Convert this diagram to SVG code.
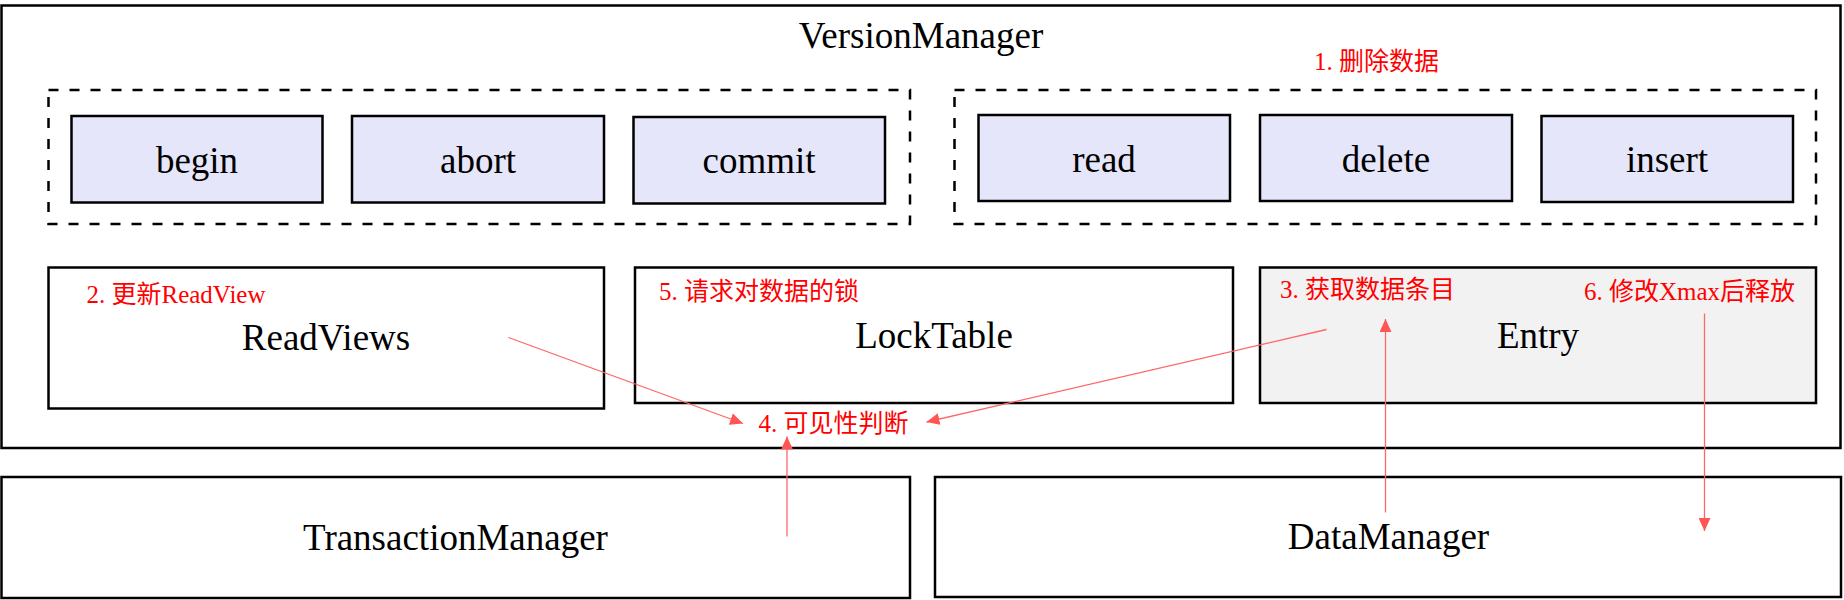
<svg xmlns="http://www.w3.org/2000/svg" width="1844" height="600" viewBox="0 0 1844 600">
<style>
.box{fill:#FFFFFF;stroke:#000000;stroke-width:2.5}
.op{fill:#E6E6FA;stroke:#000000;stroke-width:2.5}
.dash{fill:none;stroke:#000000;stroke-width:2.5;stroke-dasharray:10 11}
.t{font-family:"Liberation Serif","Times New Roman",serif;font-size:37px;fill:#000000;text-anchor:middle}
.r{font-family:"Liberation Serif","Noto Sans CJK SC",serif;font-size:25px;fill:#FF0000}
.c{stroke:#FF6666;stroke-width:1.3;fill:none}
</style>
<defs>
<marker id="ah" markerUnits="userSpaceOnUse" markerWidth="14" markerHeight="12" refX="13" refY="6" orient="auto">
<path d="M0,0 L13,6 L0,12 z" fill="#FF5555"/>
</marker>
</defs>
<rect width="1844" height="600" fill="#FFFFFF"/>
<g id="VersionManager">
<rect class="box" x="1.5" y="5.5" width="1839" height="442.5"/>
<text class="t" x="921" y="48">VersionManager</text>
</g>
<g id="group-txn-ops">
<rect class="dash" x="48.5" y="90" width="861.5" height="134"/>
</g>
<g id="group-data-ops">
<rect class="dash" x="954.5" y="90" width="861.5" height="134"/>
</g>
<g id="begin"><rect class="op" x="71.5" y="116" width="251" height="86.5"/><text class="t" x="197" y="172.5">begin</text></g>
<g id="abort"><rect class="op" x="352" y="116" width="252" height="86.5"/><text class="t" x="478" y="172.5">abort</text></g>
<g id="commit"><rect class="op" x="633.5" y="117" width="251.5" height="86.5"/><text class="t" x="759" y="173">commit</text></g>
<g id="read"><rect class="op" x="978.5" y="115" width="251.5" height="86"/><text class="t" x="1104" y="171.5">read</text></g>
<g id="delete"><rect class="op" x="1260" y="115" width="252" height="86"/><text class="t" x="1386" y="171.5">delete</text></g>
<g id="insert"><rect class="op" x="1541.5" y="116" width="251.5" height="86"/><text class="t" x="1667" y="172">insert</text></g>
<g id="ReadViews"><rect class="box" x="48.5" y="267.5" width="555.5" height="141"/><text class="t" x="326" y="350">ReadViews</text></g>
<g id="LockTable"><rect class="box" x="635" y="267.5" width="598" height="135.5"/><text class="t" x="934" y="348">LockTable</text></g>
<g id="Entry"><rect class="box" x="1260" y="267.5" width="556" height="135.5" style="fill:#F2F2F2"/><text class="t" x="1538" y="348">Entry</text></g>
<g id="TransactionManager"><rect class="box" x="1.5" y="477" width="908.5" height="121"/><text class="t" x="455.5" y="550">TransactionManager</text></g>
<g id="DataManager"><rect class="box" x="935" y="477" width="906" height="120"/><text class="t" x="1388.5" y="548.5">DataManager</text></g>
<g id="labels">
<text class="r" x="1314" y="70">1. 删除数据</text>
<text class="r" x="86.5" y="303">2. 更新ReadView</text>
<text class="r" x="659" y="300">5. 请求对数据的锁</text>
<text class="r" x="1280" y="298">3. 获取数据条目</text>
<text class="r" x="1584" y="300">6. 修改Xmax后释放</text>
<text class="r" x="758.5" y="432">4. 可见性判断</text>
</g>
<g id="connectors">
<line class="c" x1="508.5" y1="337.5" x2="743" y2="423.5" marker-end="url(#ah)"/>
<line class="c" x1="1326.5" y1="329.5" x2="926.5" y2="422" marker-end="url(#ah)"/>
<line class="c" x1="787" y1="536.5" x2="787" y2="436.5" marker-end="url(#ah)"/>
<line class="c" x1="1385.5" y1="512.5" x2="1385.5" y2="319" marker-end="url(#ah)"/>
<line class="c" x1="1704.5" y1="313.5" x2="1704.5" y2="531" marker-end="url(#ah)"/>
</g>
</svg>
